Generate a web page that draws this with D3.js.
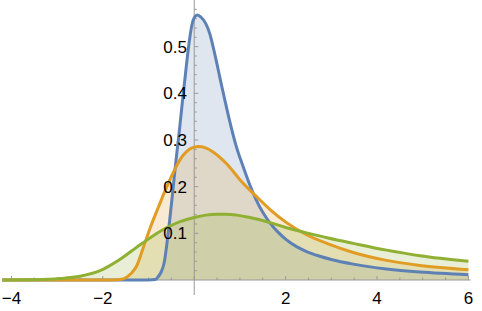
<!DOCTYPE html>
<html>
<head>
<meta charset="utf-8">
<script src="https://cdn.jsdelivr.net/npm/d3@7"></script>
<style>
  body { margin: 0; background: #fff; }
  svg text { font-family: "Liberation Sans", Arial, sans-serif; font-size: 17px; fill: #000; }
</style>
</head>
<body>
<div id="chart"></div>
<script>
// values
var blueX = [-4.2, -1.0, -0.85, -0.79, -0.72, -0.66, -0.57, -0.48, -0.40, -0.32, -0.25, -0.18, -0.11, -0.05, 0.0, 0.07, 0.15, 0.25, 0.34, 0.42, 0.5, 0.58, 0.66, 0.8, 0.93, 1.07, 1.2, 1.35, 1.5, 1.66, 1.85, 2.02, 2.25, 2.46, 2.75, 3.0, 3.48, 4.21, 4.94, 6.0];
var blueY = [0, 0, 0.001, 0.007, 0.018, 0.036, 0.1, 0.18, 0.255, 0.325, 0.39, 0.452, 0.51, 0.547, 0.562, 0.568, 0.563, 0.55, 0.528, 0.497, 0.462, 0.425, 0.39, 0.331, 0.283, 0.243, 0.208, 0.173, 0.145, 0.122, 0.101, 0.086, 0.071, 0.061, 0.051, 0.044, 0.034, 0.0235, 0.017, 0.0115];

var orangeX = [-4.2, -1.8, -1.63, -1.48, -1.37, -1.26, -1.12, -0.97, -0.78, -0.6, -0.46, -0.31, -0.18, -0.05, 0.09, 0.25, 0.42, 0.71, 1.0, 1.37, 1.66, 2.02, 2.46, 2.93, 3.48, 4.21, 4.94, 6.0];
var orangeY = [0, 0, 0.001, 0.006, 0.015, 0.03, 0.068, 0.11, 0.157, 0.2, 0.23, 0.258, 0.274, 0.283, 0.286, 0.283, 0.274, 0.249, 0.215, 0.178, 0.151, 0.123, 0.097, 0.0775, 0.059, 0.042, 0.031, 0.022];

var greenX = [-4.2, -3.5, -2.94, -2.5, -2.06, -1.63, -1.19, -0.75, -0.31, 0.0, 0.25, 0.49, 0.7, 0.93, 1.22, 1.66, 2.02, 2.46, 2.93, 3.48, 4.21, 4.94, 6.0];
var greenY = [0, 0.0006, 0.003, 0.008, 0.02, 0.044, 0.075, 0.104, 0.125, 0.134, 0.139, 0.141, 0.141, 0.139, 0.134, 0.123, 0.112, 0.101, 0.09, 0.0785, 0.064, 0.052, 0.04];

var xTicks = [-4, -2, 2, 4, 6];
var yTicks = [0.1, 0.2, 0.3, 0.4, 0.5];

var colors = ["#5e81b5", "#e19c24", "#8fb032"];

var width = 482, height = 311;

var svg = d3.select("#chart")
    .append("svg")
    .attr("width", width)
    .attr("height", height);

var x = d3.scaleLinear()
    .domain([-4.2, 6])
    .range([2.3, 468.4]);

var y = d3.scaleLinear()
    .domain([0, 0.6])
    .range([280, 0]);

var series = [
    { xs: blueX, ys: blueY },
    { xs: orangeX, ys: orangeY },
    { xs: greenX, ys: greenY }
].map(function(s, i) {
    return { color: colors[i], pts: s.xs.map(function(v, j) { return [v, s.ys[j]]; }) };
});

var area = d3.area()
    .x(function(d) { return x(d[0]); })
    .y0(y(0))
    .y1(function(d) { return y(d[1]); })
    .curve(d3.curveMonotoneX);

var line = d3.line()
    .x(function(d) { return x(d[0]); })
    .y(function(d) { return y(d[1]); })
    .curve(d3.curveMonotoneX);

// fills
svg.append("g")
    .selectAll("path")
    .data(series)
    .enter().append("path")
    .attr("d", function(d) { return area(d.pts); })
    .attr("fill", function(d) { return d.color; })
    .attr("fill-opacity", 0.2);

// axes
var ax = svg.append("g").attr("stroke", "#999").attr("stroke-width", 1);
ax.append("line")
    .attr("x1", x(-4.2)).attr("x2", x(6.05))
    .attr("y1", y(0)).attr("y2", y(0));
ax.append("line")
    .attr("x1", x(0)).attr("x2", x(0))
    .attr("y1", 0).attr("y2", 295);

var xMinor = d3.range(-4, 6.01, 0.5);
ax.selectAll(".xt")
    .data(xMinor)
    .enter().append("line")
    .attr("x1", function(d) { return x(d); })
    .attr("x2", function(d) { return x(d); })
    .attr("y1", y(0))
    .attr("y2", function(d) { return y(0) - (d % 2 === 0 ? 4 : 2.5); });

var yMinor = d3.range(0.02, 0.59, 0.02);
ax.selectAll(".yt")
    .data(yMinor)
    .enter().append("line")
    .attr("y1", function(d) { return y(d); })
    .attr("y2", function(d) { return y(d); })
    .attr("x1", x(0))
    .attr("x2", function(d) { return x(0) + (Math.abs(d * 10 - Math.round(d * 10)) < 1e-6 ? 4 : 2.5); });

// lines
svg.append("g")
    .selectAll("path")
    .data(series)
    .enter().append("path")
    .attr("d", function(d) { return line(d.pts); })
    .attr("fill", "none")
    .attr("stroke", function(d) { return d.color; })
    .attr("stroke-width", 3)
    .attr("stroke-linejoin", "round");

// tick labels
svg.append("g")
    .selectAll("text")
    .data(xTicks)
    .enter().append("text")
    .attr("x", function(d) { return x(d); })
    .attr("y", 304)
    .attr("text-anchor", "middle")
    .text(function(d) { return d < 0 ? "\u2212" + Math.abs(d) : d; });

svg.append("g")
    .selectAll("text")
    .data(yTicks)
    .enter().append("text")
    .attr("x", 187)
    .attr("y", function(d) { return y(d) + 6; })
    .attr("text-anchor", "end")
    .text(function(d) { return d.toFixed(1); });
</script>
</body>
</html>
